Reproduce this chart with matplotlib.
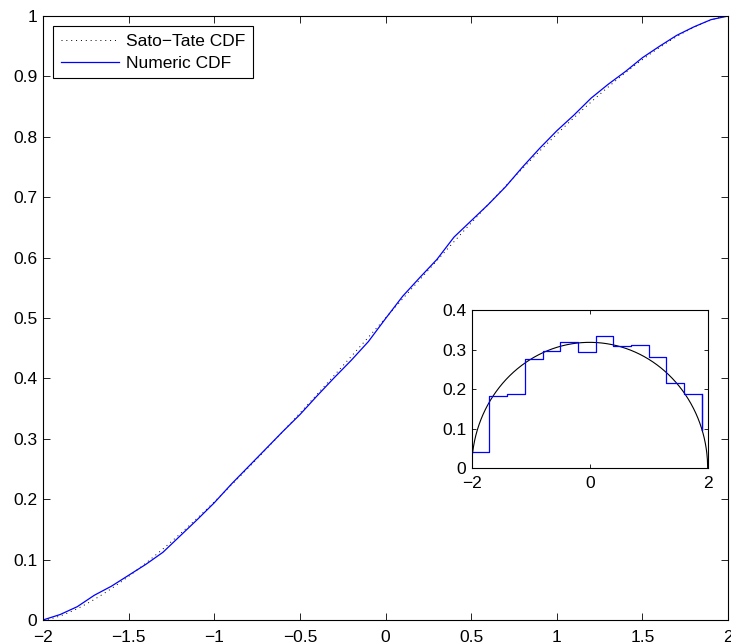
import numpy as np
import matplotlib
matplotlib.use("Agg")
import matplotlib.pyplot as plt

plt.rcParams['font.family'] = ['Liberation Sans', 'DejaVu Sans']
plt.rcParams['axes.unicode_minus'] = True

# numeric CDF (x grid, value)
cdf_x = [-2.0, -1.9, -1.8, -1.7, -1.6, -1.5, -1.4, -1.3, -1.2, -1.1, -1.0,
         -0.9, -0.8, -0.7, -0.6, -0.5, -0.4, -0.3, -0.2, -0.1, 0.0,
         0.1, 0.2, 0.3, 0.4, 0.5, 0.6, 0.7, 0.8, 0.9, 1.0,
         1.1, 1.2, 1.3, 1.4, 1.5, 1.6, 1.7, 1.8, 1.9, 2.0]
cdf_num = [0.000, 0.009, 0.022, 0.041, 0.056, 0.074, 0.092, 0.112, 0.139, 0.166, 0.194,
           0.225, 0.254, 0.283, 0.312, 0.340, 0.371, 0.401, 0.430, 0.461, 0.499,
           0.536, 0.567, 0.597, 0.634, 0.661, 0.688, 0.717, 0.750, 0.781, 0.810,
           0.836, 0.864, 0.887, 0.908, 0.931, 0.950, 0.968, 0.982, 0.994, 1.000]

# histogram (inset): left bin edges and densities
hist_edges = [-2.0, -1.7, -1.4, -1.1, -0.8, -0.5, -0.2, 0.1, 0.4, 0.7, 1.0, 1.3, 1.6, 1.9]
hist_dens = [0.040, 0.184, 0.188, 0.275, 0.296, 0.320, 0.293, 0.335, 0.309, 0.312,
             0.282, 0.215, 0.188, 0.097]

# Sato-Tate law
xs = np.linspace(-2, 2, 801)
st_cdf = 0.5 + xs * np.sqrt(4 - xs**2) / (4 * np.pi) + np.arcsin(xs / 2) / np.pi
st_pdf = np.sqrt(4 - xs**2) / (2 * np.pi)

FS = 12.5


def matlab_axes(ax):
    ax.tick_params(direction='in', top=True, right=True, length=5, width=0.6,
                   labelsize=FS, pad=4)
    ax.tick_params(axis='x', pad=7)
    for s in ax.spines.values():
        s.set_linewidth(0.8)


fig = plt.figure(figsize=(7.31, 6.44), dpi=100)
ax = fig.add_axes([0.0588, 0.0373, 0.9372, 0.9378])
ax.plot(xs, st_cdf, color='black', linestyle=(0, (1, 4)), linewidth=0.7, label='Sato\u2212Tate CDF')
ax.plot(cdf_x, cdf_num, color='blue', linewidth=0.9, label='Numeric CDF')
ax.set_xlim(-2, 2)
ax.set_ylim(0, 1)
xt = np.arange(-2, 2.01, 0.5)
ax.set_xticks(xt)
ax.set_xticklabels(['\u22122', '\u22121.5', '\u22121', '\u22120.5', '0', '0.5', '1', '1.5', '2'])
yt = np.round(np.arange(0, 1.01, 0.1), 1)
ax.set_yticks(yt)
ax.set_yticklabels(['0'] + ['%.1f' % v for v in yt[1:-1]] + ['1'])
matlab_axes(ax)
leg = ax.legend(loc='upper left', fontsize=FS, fancybox=False, framealpha=1,
                edgecolor='black', borderaxespad=0.6, handlelength=3.3,
                handletextpad=0.45, borderpad=0.45, labelspacing=0.35)
leg.get_frame().set_linewidth(0.8)

ins = fig.add_axes([0.6453, 0.2728, 0.3228, 0.2458])
ins.plot(xs, st_pdf, color='black', linewidth=0.8)
ins.step(hist_edges, hist_dens, where='post', color='blue', linewidth=0.9)
ins.plot([hist_edges[-1], hist_edges[-1]], [hist_dens[-2], hist_dens[-1]], color='blue', linewidth=0.9)
ins.set_xlim(-2, 2)
ins.set_ylim(0, 0.4)
ins.set_xticks([-2, 0, 2])
ins.set_xticklabels(['\u22122', '0', '2'])
ins.set_yticks([0, 0.1, 0.2, 0.3, 0.4])
ins.set_yticklabels(['0', '0.1', '0.2', '0.3', '0.4'])
matlab_axes(ins)
ins.tick_params(length=3)
ins.tick_params(axis='x', pad=5.5)

fig.savefig('out.png', dpi=100)
